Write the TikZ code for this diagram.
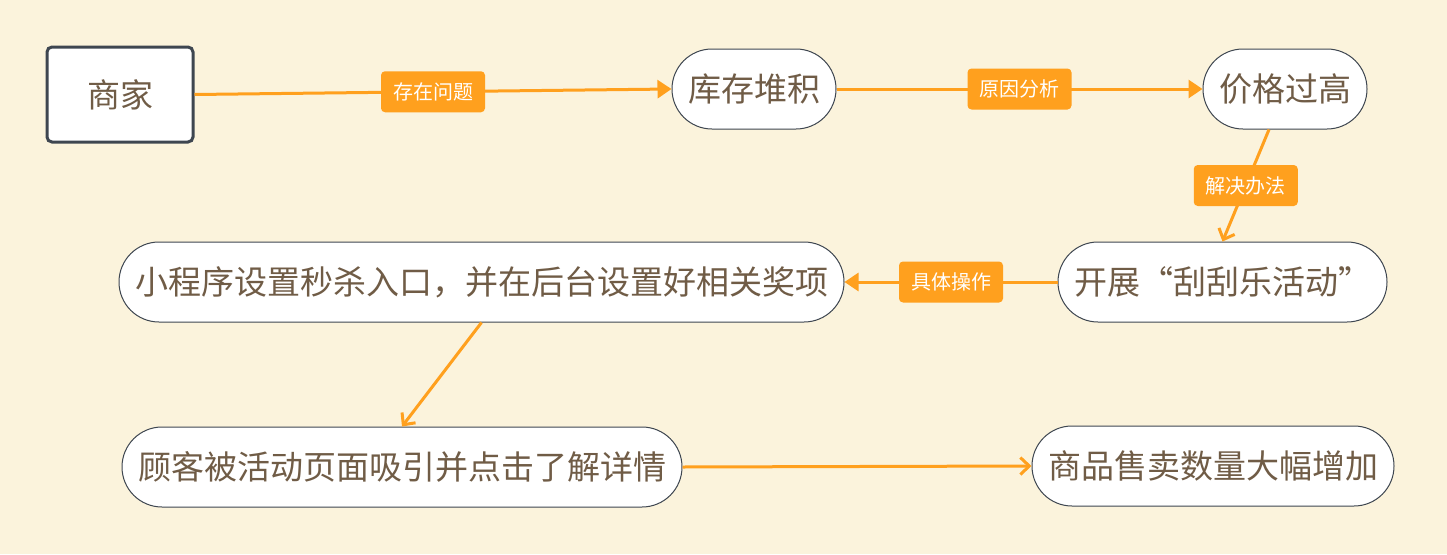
\documentclass[tikz,border=0pt]{standalone}
\usepackage{fontspec}
\setmainfont{Noto Sans CJK SC}
\usetikzlibrary{arrows.meta,positioning}
\definecolor{bgcream}{RGB}{251,243,220}
\definecolor{flow}{RGB}{255,160,30}
\definecolor{ink}{RGB}{112,92,70}
\definecolor{rim}{RGB}{62,70,80}
\tikzset{
  pill/.style={rectangle, rounded corners=40pt, draw=rim, line width=1pt, fill=white, text=ink, font=\fontsize{33}{36}\selectfont, minimum height=80pt, inner sep=0pt},
  tag/.style={rectangle, rounded corners=4pt, fill=flow, text=white, font=\fontsize{20}{23}\selectfont, minimum width=104pt, minimum height=41pt, inner sep=0pt},
  farr/.style={-{Triangle[length=14pt,width=18pt]}, line width=3pt, flow},
  oarr/.style={-{Straight Barb[length=9pt,width=17pt]}, line width=3pt, flow}
}

\begin{document}
\begin{tikzpicture}[x=1pt, y=-1pt,
    start/.style={rectangle, rounded corners=5pt, draw=rim, line width=3pt, fill=white, text=ink, font=\fontsize{33}{36}\selectfont, minimum width=146pt, minimum height=95pt, inner sep=0pt}
  ]
    \fill[bgcream] (0,0) rectangle (1447,554);

    \node[start] (sj) at (120,94.5) {商家};
    \node[pill, minimum width=164pt] (kc) at (754,89) {库存堆积};
    \node[pill, minimum width=164pt] (jg) at (1285,89) {价格过高};
    \node[pill, minimum width=329pt] (kz) at (1222.5,282) {开展“刮刮乐活动”};
    \node[pill, minimum width=725pt] (xcx) at (481.5,282) {小程序设置秒杀入口，并在后台设置好相关奖项};
    \node[pill, minimum width=560pt] (gk) at (402,467) {顾客被活动页面吸引并点击了解详情};
    \node[pill, minimum width=362pt] (sp) at (1213,466) {商品售卖数量大幅增加};

    \draw[farr] (sj.east) -- node[tag] (q1) {存在问题} (kc.west);
    \draw[farr] (kc.east) -- node[tag] (q2) {原因分析} (jg.west);
    \draw[oarr] ([xshift=-16pt]jg.south) -- node[tag] (q3) {解决办法} (kz.north);
    \draw[farr] (kz.west) -- node[tag] (q4) {具体操作} (xcx.east);
    \draw[oarr] (xcx.south) -- (gk.north);
    \draw[oarr] (gk.east) -- (sp.west);
  \end{tikzpicture}
\end{document}
